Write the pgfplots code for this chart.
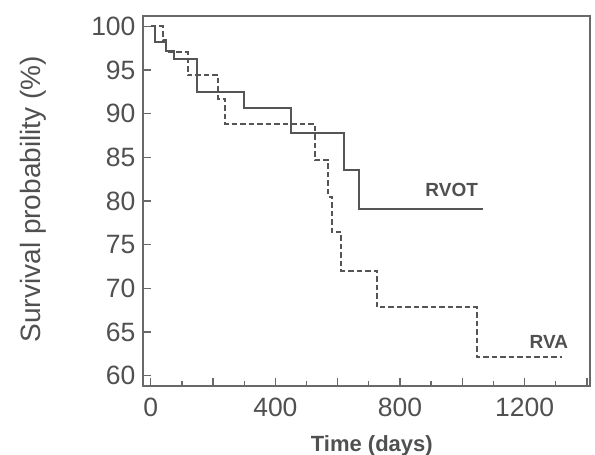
\documentclass[border=0pt]{standalone}
\usepackage{fontspec}
\setmainfont{Liberation Sans}
\usepackage{pgfplots}
\pgfplotsset{compat=1.18}
\definecolor{txt}{RGB}{80,80,80}
\definecolor{ln}{RGB}{85,85,85}
\definecolor{ax}{RGB}{105,105,105}
\begin{document}
\begin{tikzpicture}
\useasboundingbox (-143pt,-69pt) rectangle (452pt,386pt);
\begin{axis}[
  at={(0,0)}, anchor=south west,
  scale only axis, width=447pt, height=370pt,
  xmin=-25, xmax=1410, ymin=58.8, ymax=101.2,
  xtick={0,200,...,1400}, xticklabels={0,,400,,800,,1200,},
  minor xtick={100,300,...,1300},
  ytick={60,65,...,100},
  tick align=inside, xtick pos=bottom, ytick pos=left,
  major tick length=8pt, minor tick length=4.5pt,
  axis line style={ax, line width=1.6pt},
  every tick/.style={ax, line width=1.3pt},
  tick label style={font=\fontsize{26.5}{26.5}\selectfont, text=txt},
  yticklabel style={xshift=-4pt},
  xticklabel style={yshift=-8pt},
  /pgf/number format/assume math mode=true,
  xlabel={Time (days)},
  xlabel style={font=\fontsize{22}{22}\selectfont\bfseries, text=txt, at={(axis description cs:0.512,-0.176)}, anchor=base},
  ylabel={Survival probability (\%)},
  ylabel style={font=\fontsize{28}{28}\selectfont, text=txt, at={(axis description cs:-0.245,0.505)}, anchor=center},
  clip=false,
]
\addplot[const plot, ln, line width=2pt] coordinates {
 (0,100) (15,98.2) (48,97.2) (75,96.3) (148,92.5) (298,90.6) (449,87.8)
 (620,83.6) (669,79.1) (1068,79.1)
};
\addplot[const plot, ln, line width=2pt, dash pattern=on 5.5pt off 3pt] coordinates {
 (0,100) (40,98.5) (50,97.1) (118,94.4) (217,91.7) (238,88.8) (527,84.7)
 (570,80.5) (582,76.4) (612,72.0) (726,67.8) (1048,62.1) (1320,62.1)
};
\node[font=\fontsize{19}{19}\selectfont\bfseries, text=txt] at (axis cs:966,81.3) {RVOT};
\node[font=\fontsize{19}{19}\selectfont\bfseries, text=txt] at (axis cs:1278,63.8) {RVA};
\end{axis}
\end{tikzpicture}
\end{document}
